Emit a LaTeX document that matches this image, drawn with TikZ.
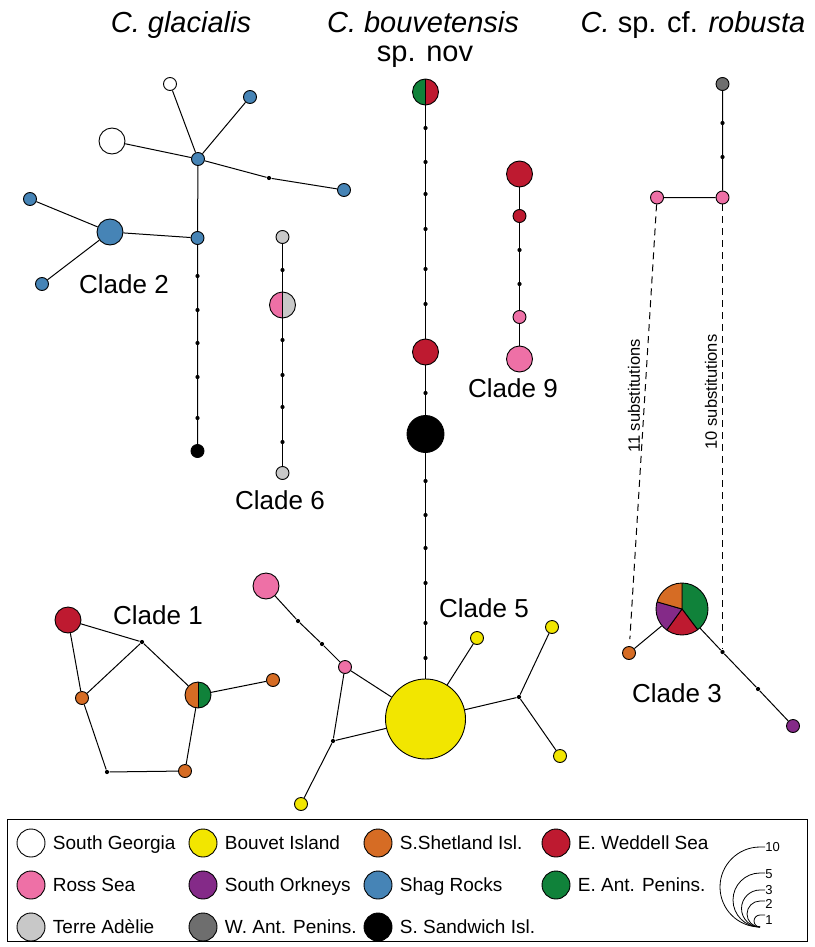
\documentclass[tikz,border=0pt]{standalone}
\usepackage{fontspec}
\setmainfont{Liberation Sans}
\usetikzlibrary{positioning}
\definecolor{sgeo}{RGB}{255,255,255}
\definecolor{bouv}{RGB}{242,230,0}
\definecolor{sshe}{RGB}{214,108,36}
\definecolor{ewed}{RGB}{190,26,48}
\definecolor{ross}{RGB}{238,112,166}
\definecolor{sork}{RGB}{132,42,136}
\definecolor{shag}{RGB}{70,132,182}
\definecolor{eant}{RGB}{16,130,58}
\definecolor{tadl}{RGB}{200,200,200}
\definecolor{want}{RGB}{110,110,110}
\definecolor{ssan}{RGB}{0,0,0}
\tikzset{
  x=1pt, y=1pt,
  hap/.style={circle, draw, line width=0.9pt, inner sep=0pt, minimum size=13pt},
  n2/.style={minimum size=26pt},
  n3/.style={minimum size=37pt},
  n5/.style={minimum size=52pt},
  n10/.style={minimum size=80pt},
  mv/.style={circle, fill, inner sep=0pt, minimum size=4.2pt},
  halves/.style 2 args={path picture={
      \fill[#1] (path picture bounding box.south west) rectangle (path picture bounding box.north);
      \fill[#2] (path picture bounding box.south) rectangle (path picture bounding box.north east);
      \draw[line width=0.9pt] (path picture bounding box.south) -- (path picture bounding box.north);}},
  pie/.style={path picture={
      \coordinate (pc) at (path picture bounding box.center);
      \filldraw[line width=0.9pt, fill=eant] (pc) -- ++(90:30) arc[start angle=90, end angle=-53, radius=30] -- cycle;
      \filldraw[line width=0.9pt, fill=ewed] (pc) -- ++(-53:30) arc[start angle=-53, end angle=-126, radius=30] -- cycle;
      \filldraw[line width=0.9pt, fill=sork] (pc) -- ++(-126:30) arc[start angle=-126, end angle=-196, radius=30] -- cycle;
      \filldraw[line width=0.9pt, fill=sshe] (pc) -- ++(-196:30) arc[start angle=-196, end angle=-270, radius=30] -- cycle;}},
  clade/.style={font=\fontsize{26}{30}\selectfont},
  ttl/.style={font=\fontsize{29}{33}\selectfont, anchor=base},
  subst/.style={dash pattern=on 7pt off 5pt},
  sublab/.style={rotate=90, font=\fontsize{16.5}{19}\selectfont},
  leg/.style={circle, draw, line width=0.9pt, inner sep=0pt, minimum size=28pt},
  legtext/.style={font=\fontsize{19}{22}\selectfont, text height=13.6pt, text depth=0pt, inner sep=0pt},
  scl/.style={anchor=west, inner sep=0pt, text height=9pt, text depth=0pt, font=\fontsize{13}{15}\selectfont},
}
\begin{document}
\begin{tikzpicture}[line width=1pt]
\useasboundingbox (0,0) rectangle (814,-947);

\node[ttl] (tgla) at (181,-33) {\textit{C. glacialis}};
\node[ttl] (tbou) at (423,-33) {\textit{C. bouvetensis}};
\node[ttl] (tnov) at (425,-62) {sp. nov};
\node[ttl] (trob) at (693,-33) {\textit{C.} sp. cf. \textit{robusta}};

% clade 2
\node[hap, fill=shag] (g1) at (198,-159) {};
\node[hap, fill=sgeo] (g2) at (170,-84) {};
\node[hap, fill=shag] (g3) at (250,-97) {};
\node[hap, n2, fill=sgeo] (g4) at (112,-141) {};
\node[mv] (g5) at (269,-178) {};
\node[hap, fill=shag] (g6) at (344,-190) {};
\node[hap, fill=shag] (g7) at (197.5,-238) {};
\node[hap, n2, fill=shag] (g8) at (110,-232) {};
\node[hap, fill=shag] (g9) at (30,-199) {};
\node[hap, fill=shag] (g10) at (42,-284) {};
\node[mv] (g11) at (197.5,-276) {};
\node[mv] (g12) at (197.5,-310) {};
\node[mv] (g13) at (197.5,-343) {};
\node[mv] (g14) at (197.5,-377) {};
\node[mv] (g15) at (197.5,-418) {};
\node[hap, fill=ssan] (g16) at (197.5,-451) {};
\node[clade] (lab2) at (124,-284) {Clade 2};
\draw (g1) -- (g2) (g1) -- (g3) (g1) -- (g4) (g1) -- (g5) -- (g6)
      (g1) -- (g7) -- (g8) -- (g9) (g8) -- (g10)
      (g7) -- (g16);

% clade 6
\node[hap, fill=tadl] (a1) at (282.5,-237) {};
\node[mv] (a2) at (282.5,-270) {};
\node[hap, n2, halves={ross}{tadl}] (a3) at (282.5,-305) {};
\node[mv] (a4) at (282.5,-340) {};
\node[mv] (a5) at (282.5,-375) {};
\node[mv] (a6) at (282.5,-407) {};
\node[mv] (a7) at (282.5,-442) {};
\node[hap, fill=tadl] (a8) at (282.5,-473) {};
\node[clade] (lab6) at (280,-500) {Clade 6};
\draw (a1) -- (a3) -- (a8);

% bouvetensis
\node[hap, n2, halves={eant}{ewed}] (b1) at (425.5,-92) {};
\node[mv] (b2) at (425.5,-128) {};
\node[mv] (b3) at (425.5,-162) {};
\node[mv] (b4) at (425.5,-194) {};
\node[mv] (b5) at (425.5,-229) {};
\node[mv] (b6) at (425.5,-269) {};
\node[mv] (b7) at (425.5,-304) {};
\node[hap, n2, fill=ewed] (b8) at (425.5,-352) {};
\node[mv] (b9) at (425.5,-393) {};
\node[hap, n3, fill=ssan] (b10) at (425.5,-434) {};
\node[mv] (b11) at (425.5,-481) {};
\node[mv] (b12) at (425.5,-515) {};
\node[mv] (b13) at (425.5,-548) {};
\node[mv] (b14) at (425.5,-583) {};
\node[mv] (b15) at (425.5,-623) {};
\node[mv] (b16) at (425.5,-658) {};
\node[hap, n10, fill=bouv] (b17) at (425.5,-719) {};
\draw (b1) -- (b8) -- (b10) -- (b17);

% clade 5
\node[hap, n2, fill=ross] (p1) at (266,-586) {};
\node[mv] (p2) at (298,-621) {};
\node[mv] (p3) at (322,-644) {};
\node[hap, fill=ross] (p4) at (345,-667) {};
\node[mv] (p5) at (333,-741) {};
\node[hap, fill=bouv] (p6) at (301,-804) {};
\node[hap, fill=bouv] (p7) at (477,-638) {};
\node[mv] (p8) at (519,-697) {};
\node[hap, fill=bouv] (p9) at (552,-627) {};
\node[hap, fill=bouv] (p10) at (560,-756) {};
\node[clade] (lab5) at (484,-608) {Clade 5};
\draw (p1) -- (p2) -- (p3) -- (p4) -- (b17) (p4) -- (p5) -- (b17) (p5) -- (p6)
      (b17) -- (p7) (b17) -- (p8) -- (p9) (p8) -- (p10);

% clade 9
\node[hap, n2, fill=ewed] (r1) at (519.5,-174) {};
\node[hap, fill=ewed] (r2) at (519.5,-216) {};
\node[mv] (r3) at (519.5,-250) {};
\node[mv] (r4) at (519.5,-284) {};
\node[hap, fill=ross] (r5) at (519.5,-317) {};
\node[hap, n2, fill=ross] (r6) at (519.5,-359) {};
\node[clade] (lab9) at (513,-388) {Clade 9};
\draw (r1) -- (r2) -- (r5) -- (r6);

% clade 1
\node[hap, n2, fill=ewed] (c1) at (68,-620) {};
\node[mv] (c2) at (142,-642) {};
\node[hap, fill=sshe] (c3) at (82,-698) {};
\node[hap, n2, halves={sshe}{eant}] (c4) at (198,-695) {};
\node[hap, fill=sshe] (c5) at (273,-680) {};
\node[mv] (c6) at (107,-772) {};
\node[hap, fill=sshe] (c7) at (185,-771) {};
\node[clade] (lab1) at (158,-615) {Clade 1};
\draw (c1) -- (c2) -- (c4) -- (c5) (c1) -- (c3) -- (c2) (c3) -- (c6) -- (c7) -- (c4);

% robusta
\node[hap, fill=want] (s1) at (722.5,-84) {};
\node[mv] (s2) at (722.5,-123) {};
\node[mv] (s3) at (722.5,-157) {};
\node[hap, fill=ross] (s4) at (722.5,-197.5) {};
\node[hap, fill=ross] (s5) at (657,-197.5) {};
\node[hap, n5, pie] (s6) at (682,-609) {};
\node[hap, fill=sshe] (s7) at (629,-653) {};
\node[mv] (s8) at (722.5,-652) {};
\node[mv] (s9) at (758,-689) {};
\node[hap, fill=sork] (s10) at (793,-726) {};
\node[clade] (lab3) at (677,-693) {Clade 3};
\draw (s1) -- (s4) -- (s5) (s6) -- (s7) (s6) -- (s8) -- (s9) -- (s10);
\draw[subst, shorten >=7pt] (s5) -- (s7);
\draw[subst] (s4) -- (s8);
\node[sublab] (sub11) at (634,-396) {11 substitutions};
\node[sublab] (sub10) at (711,-392) {10 substitutions};

% legend
\draw[line width=0.9pt] (7,-819) rectangle (807,-941);
\node[leg, fill=sgeo] (lsgeo) at (31,-843) {};
\node[leg, fill=bouv] (lbouv) at (203,-843) {};
\node[leg, fill=sshe] (lsshe) at (378,-843) {};
\node[leg, fill=ewed] (lewed) at (556,-843) {};
\node[leg, fill=ross] (lross) at (31,-885) {};
\node[leg, fill=sork] (lsork) at (203,-885) {};
\node[leg, fill=shag] (lshag) at (378,-885) {};
\node[leg, fill=eant] (leant) at (556,-885) {};
\node[leg, fill=tadl] (ltadl) at (31,-927) {};
\node[leg, fill=want] (lwant) at (203,-927) {};
\node[leg, fill=ssan] (lssan) at (378,-927) {};
\node[legtext, right=7pt of lsgeo] {South Georgia};
\node[legtext, right=7pt of lbouv] {Bouvet Island};
\node[legtext, right=7pt of lsshe] {S.Shetland Isl.};
\node[legtext, right=7pt of lewed] {E. Weddell Sea};
\node[legtext, right=7pt of lross] {Ross Sea};
\node[legtext, right=7pt of lsork] {South Orkneys};
\node[legtext, right=7pt of lshag] {Shag Rocks};
\node[legtext, right=7pt of leant] {E. Ant. Penins.};
\node[legtext, right=7pt of ltadl] {Terre Adèlie};
\node[legtext, right=7pt of lwant] {W. Ant. Penins.};
\node[legtext, right=7pt of lssan] {S. Sandwich Isl.};

\coordinate (sc) at (760,-927);
\draw[line width=0.8pt] (sc) arc[start angle=270, end angle=90, radius=40] -- ++(5,0) node[scl] {10};
\draw[line width=0.8pt] (sc) arc[start angle=270, end angle=90, radius=27] -- ++(5,0) node[scl, yshift=-1pt] {5};
\draw[line width=0.8pt] (sc) arc[start angle=270, end angle=90, radius=18.5] -- ++(5,0) node[scl, yshift=0.5pt] {3};
\draw[line width=0.8pt] (sc) arc[start angle=270, end angle=90, radius=13] -- ++(5,0) node[scl, yshift=-2.5pt] {2};
\draw[line width=0.8pt] (sc) arc[start angle=270, end angle=90, radius=6] -- ++(5,0) node[scl, yshift=-5pt] {1};
\end{tikzpicture}
\end{document}
